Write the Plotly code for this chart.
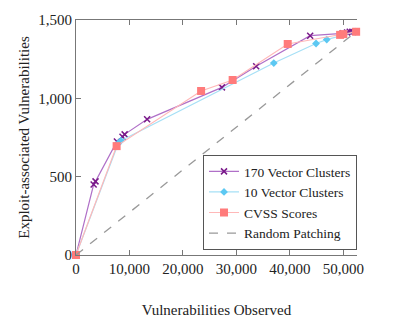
import plotly.graph_objects as go

purple_x = [0, 3300, 3650, 7650, 8700, 9100, 13300, 27300, 33700, 43800, 49900, 50700, 51200, 51700]
purple_y = [0, 450, 470, 725, 755, 770, 866, 1070, 1205, 1400, 1415, 1420, 1425, 1425]

cyan_x = [0, 7900, 8400, 37000, 44900, 46900, 52300]
cyan_y = [0, 712, 730, 1225, 1350, 1375, 1425]

cvss_x = [0, 7600, 23400, 29300, 39600, 49400, 50000, 52400]
cvss_y = [0, 695, 1047, 1117, 1347, 1405, 1410, 1425]

random_x = [0, 52400]
random_y = [0, 1425]

x_ticks = [0, 10000, 20000, 30000, 40000, 50000]
y_ticks = [0, 500, 1000, 1500]

font = "Liberation Serif"
fs = 15

fig = go.Figure()
fig.add_trace(go.Scatter(x=purple_x, y=purple_y, mode="lines+markers", name="170 Vector Clusters",
                         line=dict(color="#b070c8", width=1.2),
                         marker=dict(symbol="x-thin-open", size=6, color="#7a1a8a",
                                     line=dict(color="#7a1a8a", width=1.5)),
                         cliponaxis=False))
fig.add_trace(go.Scatter(x=cyan_x, y=cyan_y, mode="lines+markers", name="10 Vector Clusters",
                         line=dict(color="#a6e0f6", width=1.2),
                         marker=dict(symbol="diamond", size=6, color="#5cc8f2"),
                         cliponaxis=False))
fig.add_trace(go.Scatter(x=cvss_x, y=cvss_y, mode="lines+markers", name="CVSS Scores",
                         line=dict(color="#ffb8b8", width=1.2),
                         marker=dict(symbol="square", size=8, color="#ff7b7b"),
                         cliponaxis=False))
fig.add_trace(go.Scatter(x=random_x, y=random_y, mode="lines", name="Random Patching",
                         line=dict(color="#999999", width=1.3, dash="dash"),
                         cliponaxis=False))

fig.update_layout(
    width=400, height=331,
    margin=dict(l=76, r=43, t=20, b=76),
    paper_bgcolor="white", plot_bgcolor="white",
    font=dict(family=font, size=fs, color="#222222"),
    showlegend=True,
    legend=dict(x=0.452, y=0.425, xanchor="left", yanchor="top",
                bordercolor="#555555", borderwidth=1, bgcolor="white",
                font=dict(family=font, size=13.5, color="#222222"),
                tracegroupgap=0, itemwidth=30),
)
fig.update_xaxes(range=[0, 52560], tickvals=x_ticks, tickformat=",d",
                 showgrid=False, zeroline=False, showline=True, linecolor="#777777", linewidth=1,
                 mirror="ticks", ticks="inside", ticklen=5, tickcolor="#777777",
                 title=dict(text="Vulnerabilities Observed", standoff=28,
                            font=dict(family=font, size=fs)),
                 tickfont=dict(family=font, size=fs))
fig.update_yaxes(range=[0, 1500], tickvals=y_ticks, tickformat=",d",
                 showgrid=False, zeroline=False, showline=True, linecolor="#777777", linewidth=1,
                 ticks="inside", ticklen=5, tickcolor="#777777",
                 title=dict(text="Exploit-associated Vulnerabilities", standoff=5,
                            font=dict(family=font, size=fs)),
                 tickfont=dict(family=font, size=fs))

fig.write_html("out.html")
